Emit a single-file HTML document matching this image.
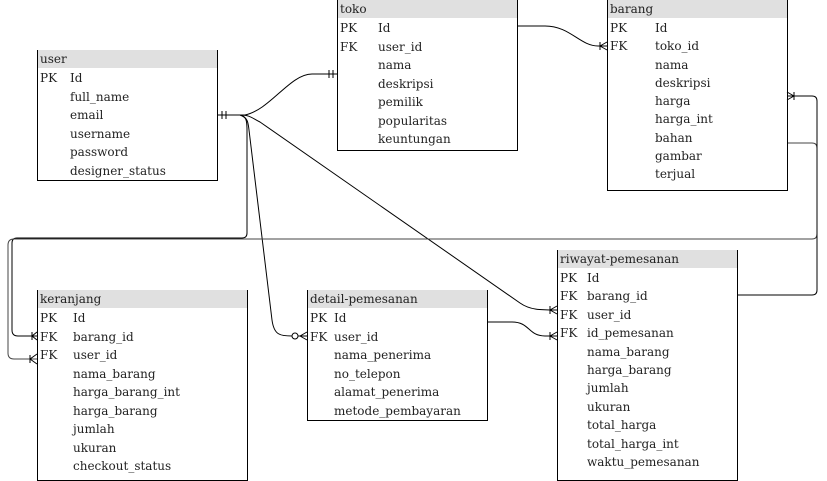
<!DOCTYPE html>
<html><head><meta charset="utf-8"><style>
body{margin:0;background:#fff;width:827px;height:481px;overflow:hidden;position:relative;font-family:"DejaVu Serif","Liberation Serif",serif;font-size:12px;color:#222}
.t{position:absolute;border:1px solid #000;border-top:none;box-sizing:border-box}
.h{background:#e0e0e0;height:18px;line-height:19px;padding-left:2px}
.r{position:absolute;white-space:nowrap;line-height:18px;margin-top:1px}
svg{position:absolute;left:0;top:0}
</style></head><body>
<svg width="827" height="481" fill="none" stroke="#000" stroke-width="1">
<path d="M217,115 H245 C270,110 290,74 312,74 H337"/>
<path d="M222,111V119M226,111V119M329,70V78M333,70V78"/>
<path d="M517,26 H545 C570,26 580,46 598,46 H607"/>
<path d="M600,42V50M600,46L607,42M600,46L607,50"/>
<path d="M240,115 C250,115 252,118 260,122 L520,303 C530,310 540,310 557,310"/>
<path d="M550,306V314M550,310L557,306M550,310L557,314"/>
<path d="M240,115 C248,118 248,122 249,130 L272,320 C274,335 280,336 292,336"/>
<circle cx="295" cy="336" r="3"/>
<path d="M300,336L307,332M300,336L307,340M298,336H307"/>
<path d="M240,115 C246,116 247,120 247,130 V233 Q247,238 242,238 H17 Q12,238 12,243 V330 Q12,336 18,336 H37"/>
<path d="M32,332V340M32,336L37,332M32,336L37,340" />
<path d="M787,143 H812 Q817,143 817,148 V234 Q817,239 812,239 H14 Q8,239 8,245 V353 Q8,359 14,359 H37" stroke="#444"/>
<path d="M30,355V363M30,359L37,354M30,359L37,364"/>
<path d="M787,96 H812 Q817,96 817,101 V290 Q817,295 812,295 H737"/>
<path d="M794,92V100M794,96L787,92M794,96L787,100"/>
<path d="M487,322 H512 C530,322 528,336 545,336 H557"/>
<path d="M550,332V340M550,336L557,332M550,336L557,340"/>
</svg>

<div class="t" style="left:37px;top:50px;width:181px;height:131px"><div class="h">user</div></div>
<div class="r" style="left:40px;top:68px">PK</div>
<div class="r" style="left:70px;top:68px;line-height:18.5px">Id<br>full_name<br>email<br>username<br>password<br>designer_status</div>

<div class="t" style="left:337px;top:0;width:181px;height:151px"><div class="h">toko</div></div>
<div class="r" style="left:340px;top:18px;line-height:18.5px">PK<br>FK</div>
<div class="r" style="left:378px;top:18px;line-height:18.5px">Id<br>user_id<br>nama<br>deskripsi<br>pemilik<br>popularitas<br>keuntungan</div>

<div class="t" style="left:607px;top:0;width:181px;height:191px"><div class="h">barang</div></div>
<div class="r" style="left:610px;top:18px;line-height:18.3px">PK<br>FK</div>
<div class="r" style="left:655px;top:18px;line-height:18.3px">Id<br>toko_id<br>nama<br>deskripsi<br>harga<br>harga_int<br>bahan<br>gambar<br>terjual</div>

<div class="t" style="left:37px;top:290px;width:211px;height:191px"><div class="h">keranjang</div></div>
<div class="r" style="left:40px;top:308px;line-height:18.5px">PK<br>FK<br>FK</div>
<div class="r" style="left:73px;top:308px;line-height:18.5px">Id<br>barang_id<br>user_id<br>nama_barang<br>harga_barang_int<br>harga_barang<br>jumlah<br>ukuran<br>checkout_status</div>

<div class="t" style="left:307px;top:290px;width:181px;height:131px"><div class="h">detail-pemesanan</div></div>
<div class="r" style="left:310px;top:308px;line-height:18.5px">PK<br>FK</div>
<div class="r" style="left:334px;top:308px;line-height:18.5px">Id<br>user_id<br>nama_penerima<br>no_telepon<br>alamat_penerima<br>metode_pembayaran</div>

<div class="t" style="left:557px;top:250px;width:181px;height:231px"><div class="h">riwayat-pemesanan</div></div>
<div class="r" style="left:560px;top:268px;line-height:18.4px">PK<br>FK<br>FK<br>FK</div>
<div class="r" style="left:587px;top:268px;line-height:18.4px">Id<br>barang_id<br>user_id<br>id_pemesanan<br>nama_barang<br>harga_barang<br>jumlah<br>ukuran<br>total_harga<br>total_harga_int<br>waktu_pemesanan</div>
</body></html>
